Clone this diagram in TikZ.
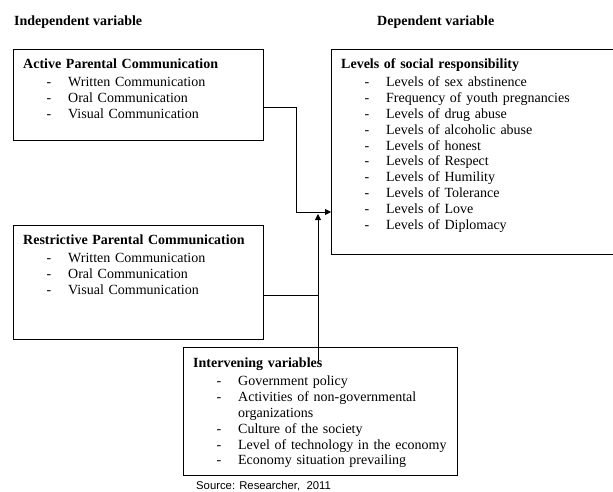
\documentclass[tikz,border=0pt]{standalone}
\usepackage{fontspec}
\setmainfont{Liberation Serif}
\newfontfamily\srcfont{Liberation Sans}
\usetikzlibrary{arrows.meta}
\newcommand{\itm}[1]{\makebox[45pt][l]{\hspace*{23.5pt}-}#1}
\newcommand{\cont}[1]{\hspace*{45pt}#1}

\tikzset{
    box/.style={draw, line width=0.8pt, anchor=north west, inner sep=0pt},
    list/.style={anchor=base west, inner sep=0pt, text width=270pt, align=left,
        font=\fontsize{14}{15.9}\selectfont},
    head/.style={anchor=base west, inner sep=0pt, font=\fontsize{14}{15.9}\selectfont\bfseries},
    conn/.style={line width=0.8pt},
    arr/.style={conn, -{Triangle[length=6pt,width=6pt]}}
}

\begin{document}
\begin{tikzpicture}[x=1pt, y=-1pt]
\useasboundingbox (0,0) rectangle (613,491);
\node[head] (indep) at (14,25) {Independent variable};
\node[head] (depend) at (377,25) {Dependent variable};
% boxes
\node[box, minimum width=250pt, minimum height=91pt] (active) at (13,49) {};
\node[box, minimum width=250pt, minimum height=114pt] (restr) at (13,225) {};
\node[box, minimum width=285pt, minimum height=205pt] (dep) at (331,49) {};
\node[box, minimum width=274pt, minimum height=128pt] (interv) at (183,347) {};
% box texts
\node[list] (activetext) at (23,68) {\textbf{Active Parental Communication}\\[2.5pt]
    \itm{Written Communication}\\
    \itm{Oral Communication}\\
    \itm{Visual Communication}};
\node[list] (restrtext) at (23,244) {\textbf{Restrictive Parental Communication}\\[2.5pt]
    \itm{Written Communication}\\
    \itm{Oral Communication}\\
    \itm{Visual Communication}};
\node[list] (deptext) at (341,68) {\textbf{Levels of social responsibility}\\[2.5pt]
    \itm{Levels of sex abstinence}\\
    \itm{Frequency of youth pregnancies}\\
    \itm{Levels of drug abuse}\\
    \itm{Levels of alcoholic abuse}\\
    \itm{Levels of honest}\\
    \itm{Levels of Respect}\\
    \itm{Levels of Humility}\\
    \itm{Levels of Tolerance}\\
    \itm{Levels of Love}\\
    \itm{Levels of Diplomacy}};
\node[list] (intervtext) at (193,367) {\textbf{Intervening variables}\\[2.5pt]
    \itm{Government policy}\\
    \itm{Activities of non-governmental}\\
    \cont{organizations}\\
    \itm{Culture of the society}\\
    \itm{Level of technology in the economy}\\
    \itm{Economy situation prevailing}};
\node[anchor=base west, inner sep=0pt, font=\srcfont\fontsize{11.3}{13}\selectfont] (source) at (196,489) {Source: Researcher,~~2011};
% connectors
\coordinate (bendA) at (296,212);
\coordinate (tipB) at (318,214);
\coordinate (startI) at (318,362);
\draw[conn] (active.east |- 0,107) -| (bendA);
\draw[arr] (bendA) -- (dep.west |- bendA);
\draw[conn] (restr.east |- 0,295) -- (tipB |- 0,295);
\draw[arr] (startI) -- (tipB);
\end{tikzpicture}
\end{document}
